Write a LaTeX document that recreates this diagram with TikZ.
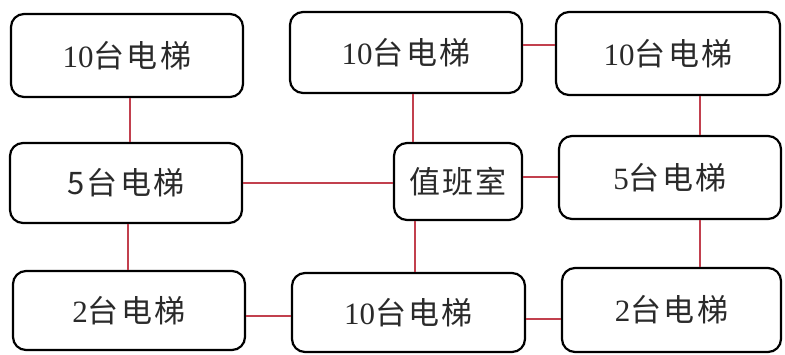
\documentclass[tikz,border=0pt]{standalone}
\usepackage{fontspec}
\setmainfont{Liberation Serif}
\newfontfamily\cjk[LetterSpace=8]{Noto Sans CJK SC}
\definecolor{linkred}{HTML}{C2404E}
\definecolor{txt}{HTML}{2A2A2A}
\tikzset{
  box/.style={draw=black, line width=2.2pt, rounded corners=13pt, fill=white,
    inner sep=0pt, text=txt, font=\fontsize{31}{34}\selectfont},
  link/.style={draw=linkred, line width=2pt}
}
\begin{document}
\begin{tikzpicture}[x=1pt,y=-1pt]
\fill[white] (0,0) rectangle (785,354);
\useasboundingbox (0,0) rectangle (785,354);
\node[box, minimum width=232pt, minimum height=83pt] (A) at (127,55.5) {10{\cjk 台电梯}};
\node[box, minimum width=232pt, minimum height=81pt] (B) at (406,52.5) {10{\cjk 台电梯}};
\node[box, minimum width=224pt, minimum height=83pt] (C) at (668,53.5) {10{\cjk 台电梯}};
\node[box, minimum width=232pt, minimum height=80pt] (D) at (126,183) {\cjk 5台电梯};
\node[box, minimum width=128pt, minimum height=77pt] (E) at (458,181.5) {\cjk 值班室};
\node[box, minimum width=222pt, minimum height=83pt] (F) at (670,177.5) {5{\cjk 台电梯}};
\node[box, minimum width=232pt, minimum height=79pt] (G) at (129,310.5) {2{\cjk 台电梯}};
\node[box, minimum width=233pt, minimum height=79pt] (H) at (408.5,312.5) {10{\cjk 台电梯}};
\node[box, minimum width=219pt, minimum height=84pt] (I) at (671.5,310) {2{\cjk 台电梯}};
% connectors
\draw[link] ([xshift=3pt]A.south) -- ([xshift=3pt]A.south |- D.north);
\draw[link] ([xshift=2pt]D.south) -- ([xshift=2pt]D.south |- G.north);
\draw[link] (D.east) -- (D.east -| E.west);
\draw[link] ([xshift=20pt]E.north west) -- ([xshift=20pt]E.north west |- B.south);
\draw[link] ([xshift=22pt]E.south west) -- ([xshift=22pt]E.south west |- H.north);
\draw[link] ([yshift=4.5pt]E.east) -- ([yshift=4.5pt]E.east -| F.west);
\draw[link] ([yshift=7.5pt]B.east) -- ([yshift=7.5pt]B.east -| C.west);
\draw[link] ([xshift=32pt]C.south) -- ([xshift=32pt]C.south |- F.north);
\draw[link] ([xshift=30pt]F.south) -- ([xshift=30pt]F.south |- I.north);
\draw[link] ([yshift=-5.5pt]G.east) -- ([yshift=-5.5pt]G.east -| H.west);
\draw[link] ([yshift=-6.5pt]H.east) -- ([yshift=-6.5pt]H.east -| I.west);
\end{tikzpicture}
\end{document}
